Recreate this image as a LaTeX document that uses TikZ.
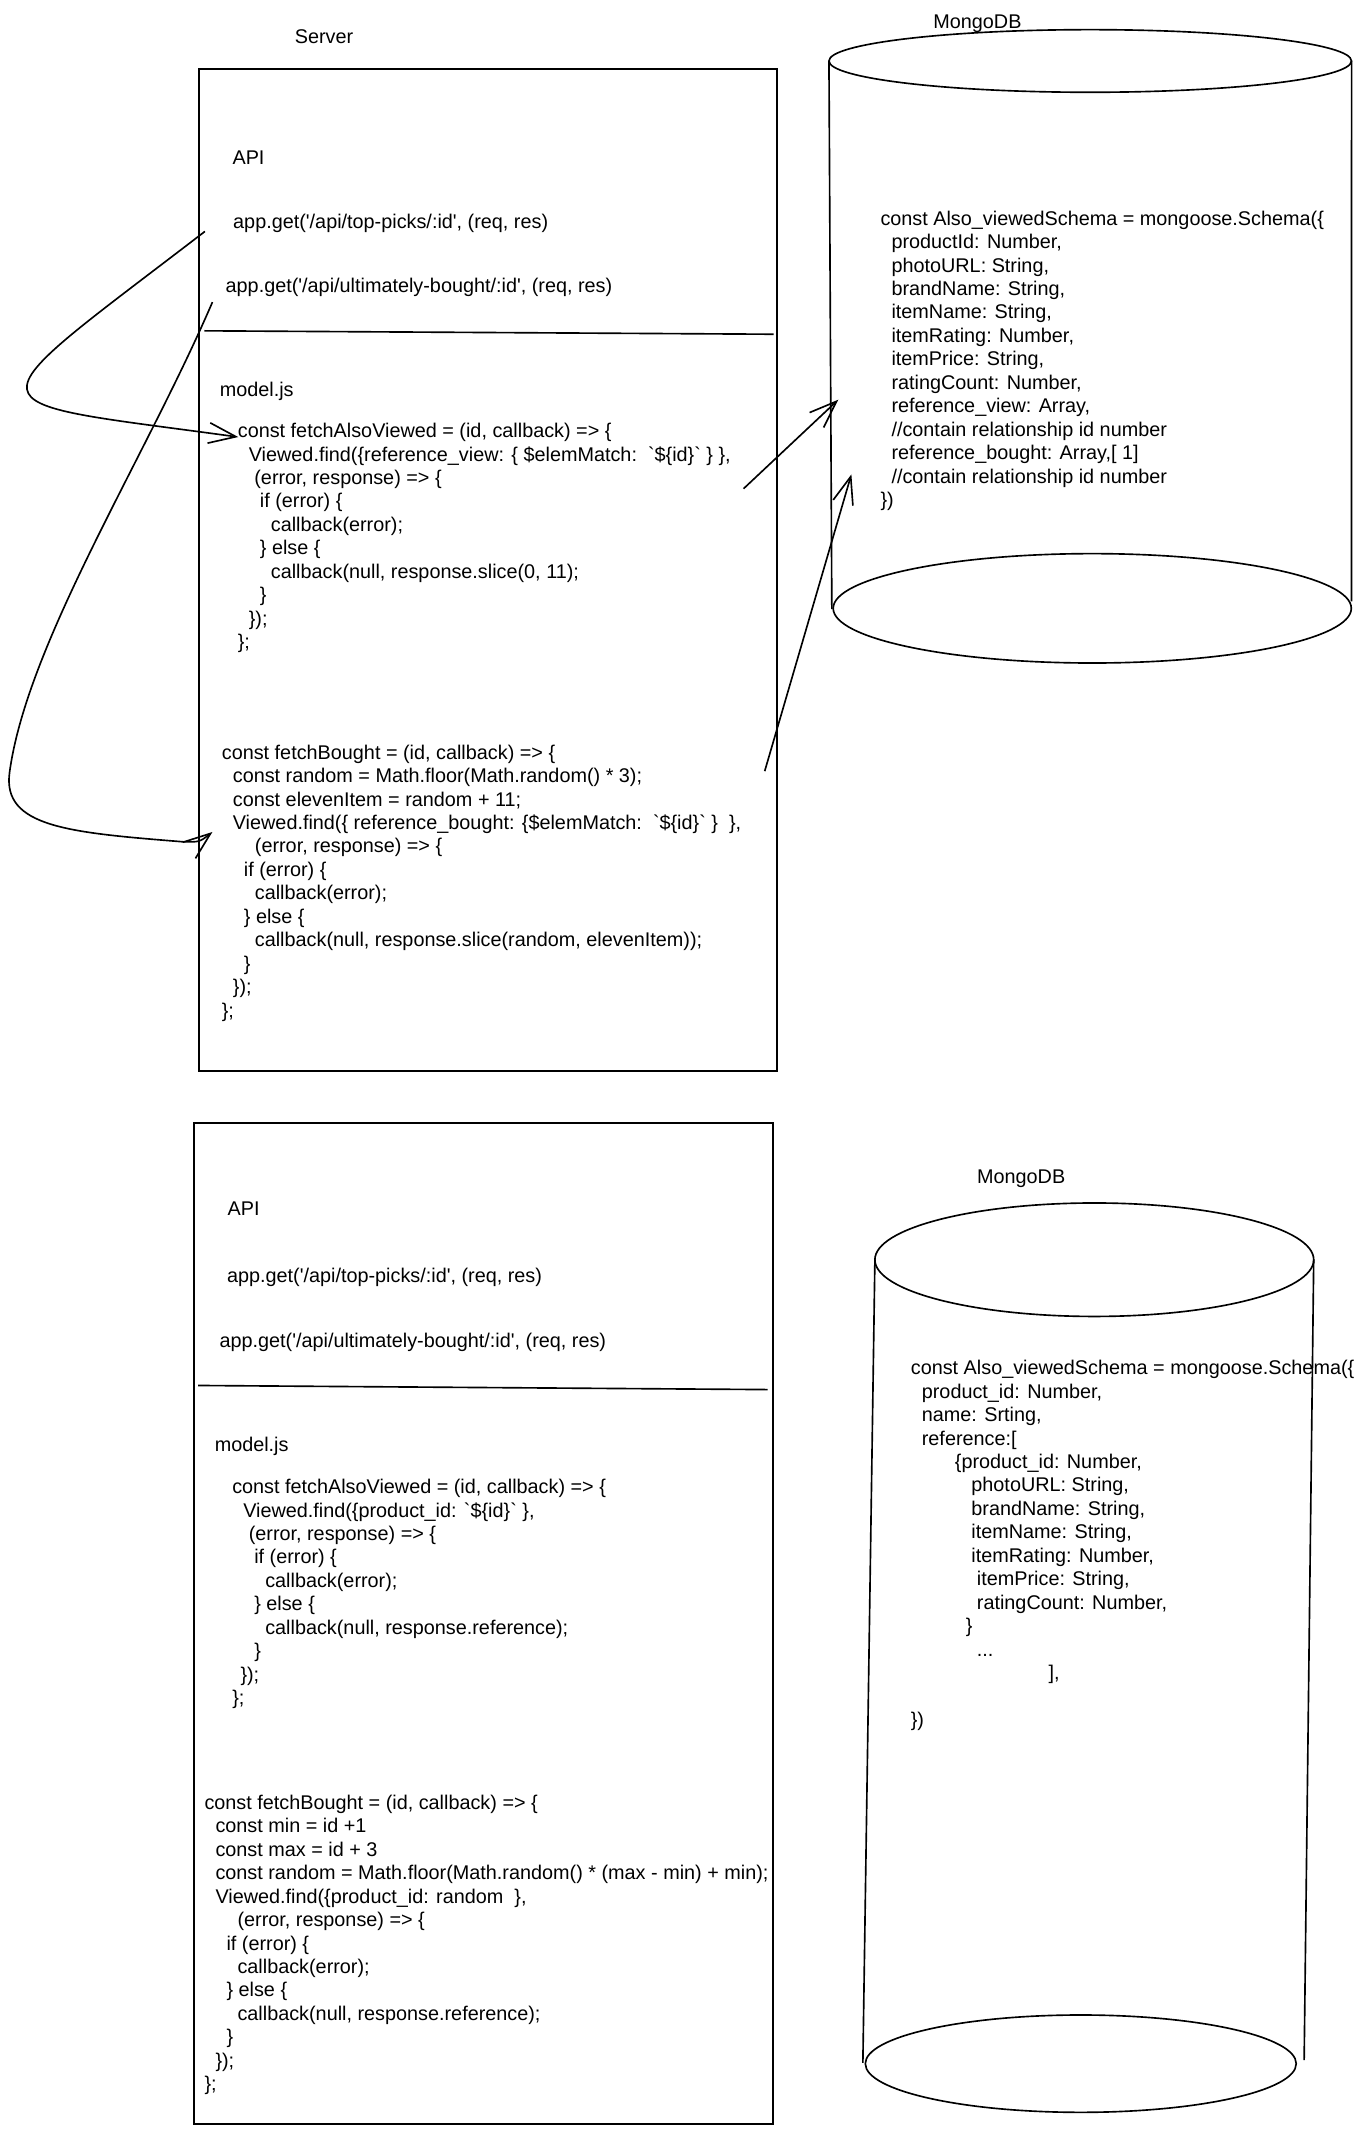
\documentclass[tikz,border=0pt]{standalone}
\usepackage{fontspec}
\newfontfamily\codefont{Liberation Sans}
\usetikzlibrary{arrows.meta,calc}

\newcommand\ind[1]{\hspace*{#1\fontdimen2\font}}

\begin{document}
\begin{tikzpicture}[x=1pt, y=-1pt, line width=1.2pt,
    txt/.style={inner sep=0pt, anchor=base west, font=\codefont\fontsize{14.5}{17.15}\selectfont},
    title/.style={inner sep=0pt, anchor=base, font=\codefont\fontsize{14.5}{17.15}\selectfont},
    codeblock/.style={inner sep=0pt, anchor=north west, align=left, font=\codefont\fontsize{14.5}{17.15}\selectfont},
    panel/.style={draw, inner sep=0pt, anchor=north west},
    openhead/.style={-{Straight Barb[length=20pt, width=15pt]}}]

    \useasboundingbox (0,0) rectangle (1000,1559.6);

    % --- 1. Server (first version) ---
    \node[title] (srvlabel) at (237,31.5) {Server};
    \node[panel, minimum width=422.9pt, minimum height=733pt] (srv1) at (144.9,50) {};
    \draw (149.5,242) -- (566,244.5);

    \node[txt] (api1) at (169.5,120) {API};
    \node[txt] (tp1) at (170,167) {app.get('/api/top-picks/:id', (req, res)};
    \node[txt] (ub1) at (164.5,213.7) {app.get('/api/ultimately-bought/:id', (req, res)};
    \node[txt] (mj1) at (160.2,290) {model.js};

    \node[codeblock] (code1) at (173.4,307.5) {\strut const fetchAlsoViewed = (id, callback) => \{\\
        \ind{2}Viewed.find(\{reference\_view: \{ \$elemMatch:\ \ `\$\{id\}` \} \},\\
        \ind{3}(error, response) => \{\\
        \ind{4}if (error) \{\\
        \ind{6}callback(error);\\
        \ind{4}\} else \{\\
        \ind{6}callback(null, response.slice(0, 11);\\
        \ind{4}\}\\
        \ind{2}\});\\
        \};};

    \node[codeblock] (code2) at (161.7,542.7) {\strut const fetchBought = (id, callback) => \{\\
        \ind{2}const random = Math.floor(Math.random() * 3);\\
        \ind{2}const elevenItem = random + 11;\\
        \ind{2}Viewed.find(\{ reference\_bought: \{\$elemMatch:\ \ `\$\{id\}` \}\ \ \},\\
        \ind{6}(error, response) => \{\\
        \ind{4}if (error) \{\\
        \ind{6}callback(error);\\
        \ind{4}\} else \{\\
        \ind{6}callback(null, response.slice(random, elevenItem));\\
        \ind{4}\}\\
        \ind{2}\});\\
        \};};

    % --- 2. MongoDB (first version) ---
    \node[title] (mongo1) at (715,21.2) {MongoDB};
    \draw (797.5,44.6) ellipse [x radius=191.1, y radius=22.9];
    \draw (606.4,44.6) -- (608.5,445.6);
    \draw (988.7,44.6) -- (988.6,440);
    \draw (799,445) ellipse [x radius=189.5, y radius=40];

    \node[codeblock] (schema1) at (643.5,152.1) {\strut const Also\_viewedSchema = mongoose.Schema(\{\\
        \ind{2}productId: Number,\\
        \ind{2}photoURL: String,\\
        \ind{2}brandName: String,\\
        \ind{2}itemName: String,\\
        \ind{2}itemRating: Number,\\
        \ind{2}itemPrice: String,\\
        \ind{2}ratingCount: Number,\\
        \ind{2}reference\_view: Array,\\
        \ind{2}//contain relationship id number\\
        \ind{2}reference\_bought: Array,[ 1]\\
        \ind{2}//contain relationship id number\\
        \})};

    % connectors
    \draw[openhead] ($(tp1.base west)+(-20.1,2.3)$) .. controls +(-176.2,135.3) and +(-202.7,-27.9) .. ($(code1.north west)+(0.9,12.2)$);
    \draw[openhead] ($(ub1.base west)+(-9.1,7.3)$) .. controls (106,336) and (20,470) .. (7,565)
        .. controls (1.5,605) and (50,609) .. (134,615.8)
        .. controls (146,616) .. ($(code2.north west)+(-6.3,65.9)$);
    \draw[openhead] ($(code1.north west)+(370.5,50)$) -- ($(schema1.north west)+(-30.3,140.3)$);
    \draw[openhead] ($(code2.north west)+(397.7,21.4)$) -- ($(schema1.north west)+(-20.7,194.9)$);

    % --- 3. Server (second version) ---
    \node[panel, minimum width=423.6pt, minimum height=732pt] (srv2) at (141.2,821) {};
    \draw (145,1013.5) -- (561.5,1016.5);

    \node[txt] (api2) at (166,889.5) {API};
    \node[txt] (tp2) at (165.5,938.5) {app.get('/api/top-picks/:id', (req, res)};
    \node[txt] (ub2) at (160,985.5) {app.get('/api/ultimately-bought/:id', (req, res)};
    \node[txt] (mj2) at (156.5,1062) {model.js};

    \node[codeblock] (code3) at (169.3,1080) {\strut const fetchAlsoViewed = (id, callback) => \{\\
        \ind{2}Viewed.find(\{product\_id: `\$\{id\}` \},\\
        \ind{3}(error, response) => \{\\
        \ind{4}if (error) \{\\
        \ind{6}callback(error);\\
        \ind{4}\} else \{\\
        \ind{6}callback(null, response.reference);\\
        \ind{4}\}\\
        \ind{1.5}\});\\
        \};};

    \node[codeblock] (code4) at (149,1311) {\strut const fetchBought = (id, callback) => \{\\
        \ind{2}const min = id +1\\
        \ind{2}const max = id + 3\\
        \ind{2}const random = Math.floor(Math.random() * (max - min) + min);\\
        \ind{2}Viewed.find(\{product\_id: random\ \ \},\\
        \ind{6}(error, response) => \{\\
        \ind{4}if (error) \{\\
        \ind{6}callback(error);\\
        \ind{4}\} else \{\\
        \ind{6}callback(null, response.reference);\\
        \ind{4}\}\\
        \ind{2}\});\\
        \};};

    % --- 4. MongoDB (second version) ---
    \node[title] (mongo2) at (747,866) {MongoDB};
    \draw (800.5,921.5) ellipse [x radius=160.5, y radius=41.5];
    \draw (640,921.5) -- (631.2,1509);
    \draw (961,921.5) -- (954,1507);
    \draw (790.6,1509.6) ellipse [x radius=157.6, y radius=35.6];

    \node[codeblock] (schema2) at (665.7,993) {\strut const Also\_viewedSchema = mongoose.Schema(\{\\
        \ind{2}product\_id: Number,\\
        \ind{2}name: Srting,\\
        \ind{2}reference:[\\
        \ind{8}\{product\_id: Number,\\
        \ind{11}photoURL: String,\\
        \ind{11}brandName: String,\\
        \ind{11}itemName: String,\\
        \ind{11}itemRating: Number,\\
        \ind{12}itemPrice: String,\\
        \ind{12}ratingCount: Number,\\
        \ind{10}\}\\
        \ind{12}...\\
        \ind{25}],\\[17.15pt]
        \})};

\end{tikzpicture}
\end{document}
